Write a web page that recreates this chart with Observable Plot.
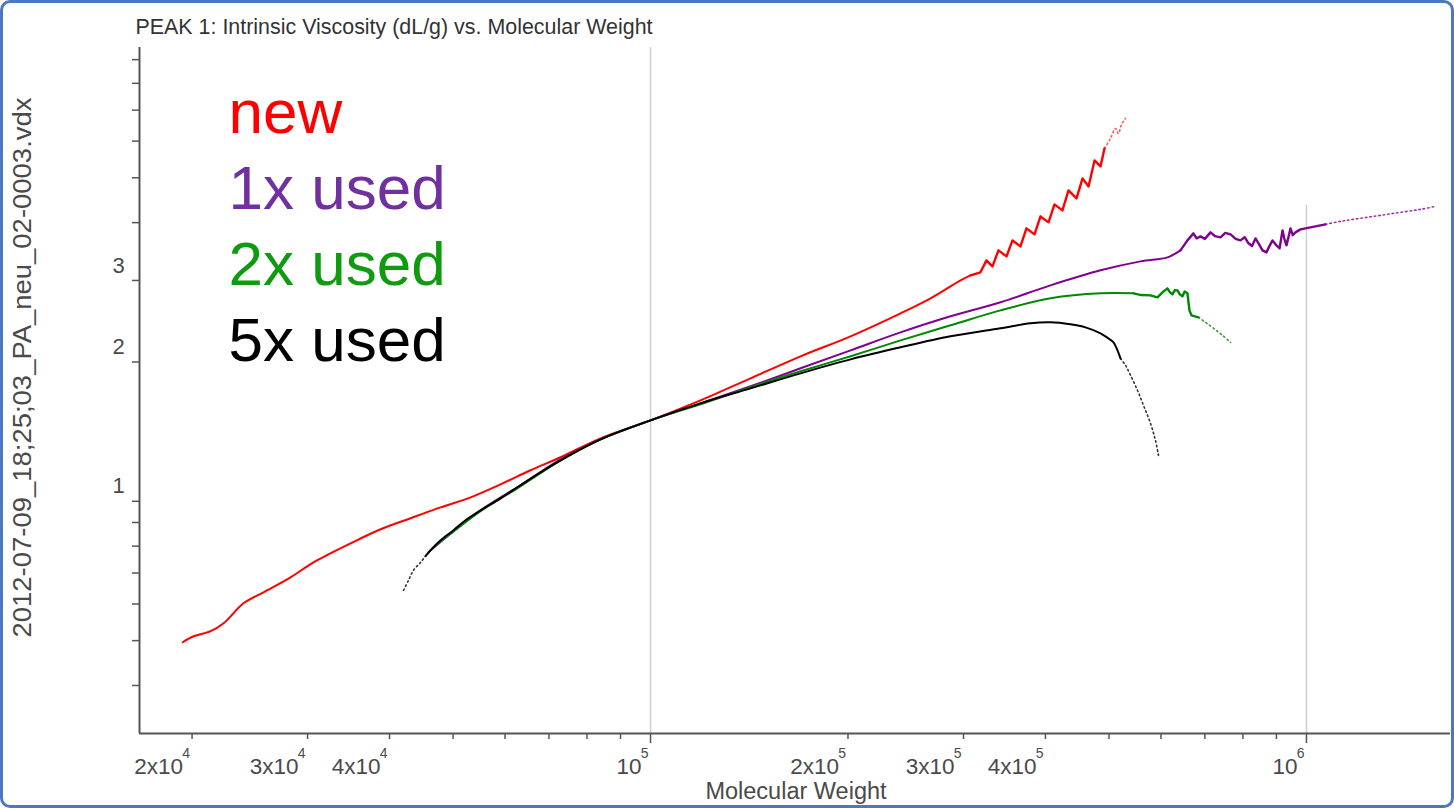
<!DOCTYPE html>
<html>
<head>
<meta charset="utf-8">
<script src="https://cdn.jsdelivr.net/npm/d3@7"></script>
<script src="https://cdn.jsdelivr.net/npm/@observablehq/plot@0.6"></script>
<style>
  html, body { margin: 0; padding: 0; background: #fff; }
  #wrap { position: relative; width: 1454px; height: 808px; background: #fff; overflow: hidden; }
  #frame { position: absolute; left: 0; top: 0; width: 1454px; height: 808px; box-sizing: border-box;
           border: 3px solid #4a78c2; border-radius: 10px; pointer-events: none; }
</style>
</head>
<body>
<div id="wrap"><div id="chart"></div><div id="frame"></div></div>
<script>
const titleText = "PEAK 1: Intrinsic Viscosity (dL/g) vs. Molecular Weight";
const xLabelText = "Molecular Weight";
const yLabelText = "2012-07-09_18;25;03_PA_neu_02-0003.vdx";

const legendNames = ["new", "1x used", "2x used", "5x used"];
const legendColors = ["#ff0000", "#7030a0", "#109a10", "#000000"];

const xDomain = [16630, 1658000];
const yDomain = [0.315, 9.56];

const xMinorTicks = [2e4, 3e4, 4e4, 5e4, 6e4, 7e4, 8e4, 9e4, 2e5, 3e5, 4e5, 5e5, 6e5, 7e5, 8e5, 9e5];
const xMajorTicks = [1e5, 1e6];
const xLabelValues = [2e4, 3e4, 4e4, 1e5, 2e5, 3e5, 4e5, 1e6];
const xLabelMantissa = ["2x10", "3x10", "4x10", "10", "2x10", "3x10", "4x10", "10"];
const xLabelExponent = ["4", "4", "4", "5", "5", "5", "5", "6"];
const yTicks = [0.4, 0.5, 0.6, 0.7, 0.8, 0.9, 1, 2, 3, 4, 5, 6, 7, 8, 9];
const yLabelValues = [1, 2, 3];

// [Molecular weight, intrinsic viscosity dL/g]
const newSmooth = [[19350,0.496],[20110,0.511],[21350,0.524],[22340,0.545],[23960,0.602],[25710,0.636],[28260,0.685],[30630,0.738],[34890,0.811],[38770,0.870],[43060,0.919],[47850,0.970],[53170,1.020],[59050,1.088],[65630,1.167],[72930,1.245],[83910,1.368],[100000,1.496],[119170,1.652],[142050,1.844],[169330,2.057],[201820,2.272],[240510,2.547],[267200,2.745],[296900,3.002],[307500,3.077]];
const newZigzag = [[307500,3.077],[318400,3.124],[325200,3.315],[332100,3.218],[339200,3.485],[348900,3.382],[356300,3.662],[366400,3.554],[374200,3.888],[384900,3.773],[393100,4.127],[404300,4.006],[412900,4.380],[424600,4.251],[433700,4.696],[446100,4.512],[455600,4.985],[465300,4.790],[475200,5.451],[485300,5.290],[492100,5.786]];
const newTail = [[492100,5.786],[502500,6.081],[511500,6.391],[516900,6.234],[522400,6.522],[529800,6.719]];

const used1Smooth = [[46200,0.784],[55060,0.956],[63340,1.083],[72930,1.232],[83910,1.361],[100000,1.496],[119170,1.628],[142050,1.772],[169330,1.938],[201820,2.119],[240510,2.317],[286640,2.510],[341620,2.691],[407200,2.928],[485300,3.155],[558500,3.299],[613870,3.365],[642510,3.485]];
const used1Noisy = [[642510,3.485],[658530,3.662],[672490,3.792],[680000,3.700],[689300,3.736],[700000,3.690],[714000,3.811],[725000,3.740],[739500,3.717],[752000,3.800],[766110,3.773],[780000,3.690],[793300,3.662],[805000,3.720],[815900,3.609],[826000,3.560],[836200,3.698],[846000,3.600],[857000,3.485],[869000,3.450],[878000,3.560],[887600,3.662],[900100,3.572],[910000,3.520],[919300,3.849],[925000,3.700],[932200,3.572],[940000,3.750],[945400,3.888],[953000,3.760],[962100,3.811],[979200,3.868],[1014100,3.907],[1069000,3.966]];
const used1Tail = [[1069000,3.966],[1127000,4.026],[1208500,4.087],[1296900,4.148],[1391000,4.210],[1492000,4.273],[1573000,4.337]];

const used2Smooth = [[45870,0.776],[47850,0.820],[50070,0.861],[55060,0.952],[63340,1.077],[72930,1.226],[83910,1.361],[100000,1.496],[119170,1.620],[142050,1.763],[169330,1.909],[201820,2.057],[240510,2.227],[286640,2.400],[341620,2.585],[407200,2.745],[485300,2.814],[544900,2.814]];
const used2Noisy = [[544900,2.814],[560000,2.790],[578300,2.786],[592700,2.758],[603200,2.828],[613870,2.884],[619000,2.830],[624700,2.800],[630000,2.860],[635800,2.855],[641000,2.800],[647100,2.772],[652000,2.840],[658530,2.814],[663200,2.585],[667900,2.522],[684500,2.497]];
const used2Tail = [[684500,2.497],[701600,2.436],[721600,2.365],[744700,2.283],[766110,2.205]];

const used5Head = [[42010,0.642],[42760,0.675],[43520,0.710],[44600,0.738],[45390,0.761]];
const used5Main = [[45390,0.761],[46200,0.784],[47850,0.824],[50070,0.866],[52240,0.910],[55060,0.956],[59050,1.015],[63340,1.083],[67970,1.155],[72930,1.226],[83910,1.361],[100000,1.496],[119170,1.628],[142050,1.754],[169330,1.890],[201820,2.026],[240510,2.151],[286640,2.272],[341620,2.365],[379500,2.424],[407200,2.436],[436700,2.412],[460400,2.376],[485300,2.306],[499000,2.249],[507950,2.205],[515100,2.119],[520590,2.036]];
const used5Tail = [[520590,2.036],[529800,1.967],[539300,1.871],[552540,1.737],[564300,1.612],[578300,1.474],[588500,1.354],[594780,1.257]];

const font = "'Liberation Sans', Arial, sans-serif";
const axisGray = "#555";
const textGray = "#4a4a4a";

const solid = (data, color) => Plot.line(data, {x: d => d[0], y: d => d[1], stroke: color, strokeWidth: 2, strokeLinejoin: "round", curve: "catmull-rom"});
const jagged = (data, color) => Plot.line(data, {x: d => d[0], y: d => d[1], stroke: color, strokeWidth: 2.4, strokeLinejoin: "round", curve: "linear"});
const dotted = (data, color) => Plot.line(data, {x: d => d[0], y: d => d[1], stroke: color, strokeWidth: 1.6, strokeDasharray: "1.5 3", strokeOpacity: 0.8, curve: "catmull-rom"});
const legendLine = (i) => Plot.text([legendNames[i]], {text: d => d, frameAnchor: "top-left", textAnchor: "start", lineAnchor: "middle", dx: 89, dy: 66 + i * 76, fill: legendColors[i], fontSize: 62});

const chart = Plot.plot({
  width: 1454,
  height: 808,
  marginLeft: 139,
  marginRight: 4,
  marginTop: 47,
  marginBottom: 75,
  x: {type: "log", domain: xDomain},
  y: {type: "log", domain: yDomain},
  style: {fontFamily: font, background: "transparent", overflow: "visible"},
  marks: [
    Plot.ruleX([xMajorTicks[0]], {stroke: "#cfcfcf", strokeWidth: 1.5}),
    Plot.ruleX([xMajorTicks[1]], {y1: yDomain[0], y2: 4.36, stroke: "#cfcfcf", strokeWidth: 1.5}),
    Plot.axisX(xMinorTicks, {tickSize: 6, tickFormat: () => "", stroke: axisGray, strokeWidth: 1.5, label: null}),
    Plot.axisX(xMajorTicks, {tickSize: 10, tickFormat: () => "", stroke: axisGray, strokeWidth: 1.5, label: null}),
    Plot.axisY(yTicks, {tickSize: 7, tickFormat: () => "", stroke: axisGray, strokeWidth: 1.5, label: null}),
    Plot.ruleX([xDomain[0]], {stroke: axisGray, strokeWidth: 2}),
    Plot.ruleY([yDomain[0]], {stroke: axisGray, strokeWidth: 2}),
    Plot.text(xLabelValues, {x: d => d, text: (d, i) => xLabelMantissa[i], frameAnchor: "bottom", textAnchor: "end", lineAnchor: "middle", dx: -9, dy: 33, fontSize: 22.5, fill: textGray}),
    Plot.text(xLabelValues, {x: d => d, text: (d, i) => xLabelExponent[i], frameAnchor: "bottom", textAnchor: "end", lineAnchor: "middle", dx: -2, dy: 20, fontSize: 14, fill: textGray}),
    Plot.text(yLabelValues, {y: d => d, text: d => String(d), frameAnchor: "left", textAnchor: "middle", lineAnchor: "middle", dx: -21, dy: -15, fontSize: 22, fill: textGray}),
    Plot.text([titleText], {text: d => d, frameAnchor: "top-left", textAnchor: "start", lineAnchor: "middle", dx: -4, dy: -20, fontSize: 21.4, fill: "#333"}),
    Plot.text([xLabelText], {text: d => d, frameAnchor: "bottom", textAnchor: "middle", lineAnchor: "middle", dx: 1, dy: 58, fontSize: 23.5, fill: textGray}),
    Plot.text([yLabelText], {text: d => d, frameAnchor: "left", rotate: -90, textAnchor: "middle", lineAnchor: "middle", dx: -117, dy: -23, fontSize: 25, fill: textGray}),
    dotted(newTail, "#ff3030"),
    solid(newSmooth, "#ff0000"),
    jagged(newZigzag, "#ff0000"),
    solid(used1Smooth, "#800090"),
    jagged(used1Noisy, "#800090"),
    dotted(used1Tail, "#900090"),
    solid(used2Smooth, "#008800"),
    jagged(used2Noisy, "#008800"),
    dotted(used2Tail, "#008800"),
    solid(used5Main, "#000000"),
    dotted(used5Head, "#000000"),
    dotted(used5Tail, "#000000"),
    legendLine(0), legendLine(1), legendLine(2), legendLine(3)
  ]
});

document.getElementById("chart").appendChild(chart);
d3.select(chart).selectAll("text").filter(function () { return this.textContent === yLabelText; })
  .attr("textLength", 540).attr("lengthAdjust", "spacingAndGlyphs");
d3.select(chart).selectAll("text").filter(function () { return this.textContent === titleText; })
  .attr("textLength", 517).attr("lengthAdjust", "spacingAndGlyphs");
</script>
</body>
</html>
